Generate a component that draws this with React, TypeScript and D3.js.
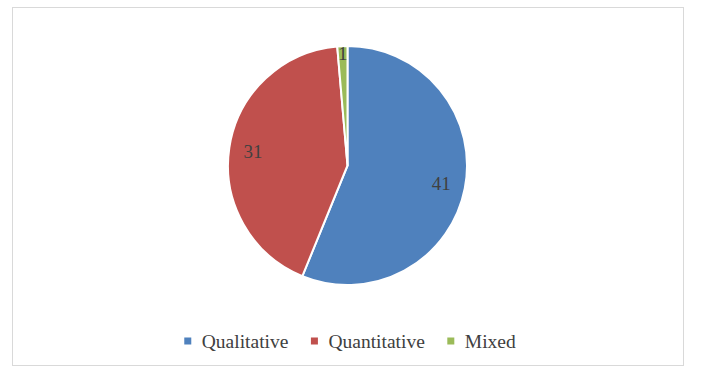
import { useEffect, useRef } from 'react';
import * as d3 from 'd3';

const categories = ['Qualitative', 'Quantitative', 'Mixed'];
const counts = [41, 31, 1];
const colors = ['#4F81BD', '#C0504D', '#9BBB59'];

const FONT = "'Liberation Serif', 'Times New Roman', serif";

export default function App() {
  const svgRef = useRef<SVGSVGElement | null>(null);

  useEffect(() => {
    if (!svgRef.current) return;
    const svg = d3.select(svgRef.current);
    svg.selectAll('*').remove();

    const cx = 347.5;
    const cy = 165.5;
    const radius = 119.5;

    // chart area border
    svg.append('rect')
      .attr('x', 12.5).attr('y', 7.5)
      .attr('width', 671).attr('height', 358)
      .attr('fill', 'white')
      .attr('stroke', '#d9d9d9')
      .attr('stroke-width', 1);

    const data = categories.map((c, i) => ({ name: c, value: counts[i], color: colors[i] }));
    const pie = d3.pie<any>().sort(null).value(d => d.value);
    const arcs = pie(data);
    const arc = d3.arc<any>().innerRadius(0).outerRadius(radius);

    const g = svg.append('g').attr('transform', `translate(${cx},${cy})`);
    g.selectAll('path.slice')
      .data(arcs)
      .join('path')
      .attr('class', 'slice')
      .attr('d', arc)
      .attr('fill', d => d.data.color)
      .attr('stroke', 'white')
      .attr('stroke-width', 2)
      .attr('stroke-linejoin', 'round');

    // data labels: narrow slices pushed toward the rim
    g.selectAll('text.lbl')
      .data(arcs)
      .join('text')
      .attr('class', 'lbl')
      .attr('transform', d => {
        const span = d.endAngle - d.startAngle;
        const r = span < 0.3 ? radius * 0.94 : radius * 0.8;
        const la = d3.arc<any>().innerRadius(r).outerRadius(r);
        const [x, y] = la.centroid(d);
        return `translate(${x},${y})`;
      })
      .attr('text-anchor', 'middle')
      .attr('dominant-baseline', 'central')
      .style('font-family', FONT)
      .attr('font-size', 19)
      .attr('fill', '#404040')
      .text(d => d.data.value);

    // legend, measured then centred under the pie
    const lg = svg.append('g');
    const items = categories.map((c, i) => {
      const item = lg.append('g');
      item.append('rect')
        .attr('x', -3.5).attr('y', -3.5)
        .attr('width', 7).attr('height', 7)
        .attr('fill', colors[i]);
      const t = item.append('text')
        .attr('x', 14).attr('y', 0)
        .attr('dominant-baseline', 'central')
        .style('font-family', FONT)
        .attr('font-size', 19.5)
        .attr('fill', '#404040')
        .text(c);
      const w = (t.node() as SVGTextElement).getComputedTextLength();
      return { item, w };
    });
    const gap = 22.5;
    const total = items.reduce((s, d) => s + 3.5 + 14 + d.w, 0) + gap * (items.length - 1);
    let x = cx + 2.5 - total / 2 + 3.5;
    items.forEach(d => {
      d.item.attr('transform', `translate(${x},341)`);
      x += 14 + d.w + gap + 3.5;
    });
  }, []);

  return (
    <svg ref={svgRef} width={713} height={377}
      style={{ position: 'absolute', left: 0, top: 0 }} />
  );
}
